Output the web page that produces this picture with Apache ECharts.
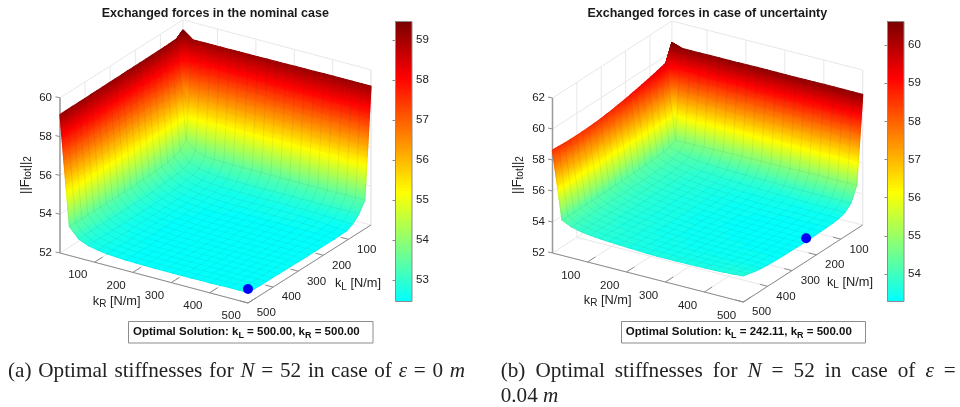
<!DOCTYPE html>
<html><head><meta charset="utf-8">
<style>html,body{margin:0;padding:0;background:#fff}#c{width:960px;height:407px;filter:blur(.5px)}</style>
<script src="https://cdn.jsdelivr.net/npm/echarts@6/dist/echarts.min.js"></script>
</head><body><div id="c"></div>
<script>
// ---------- data ----------
const kGrid = [10,34.5,59,83.5,108,132.5,157,181.5,206,230.5,255,279.5,304,328.5,353,377.5,402,426.5,451,475.5,500];
const tickK = [100,200,300,400,500];
const ticksZA = [52,54,56,58,60];
const ticksZB = [52,54,56,58,60,62];
const barTicksA = [53,54,55,56,57,58,59];
const barTicksB = [54,55,56,57,58,59,60];
const barRangeA = [52.46,59.46];
const barRangeB = [53.28,60.62];
const optimumA = [500,500,52.72];
const optimumB = [500,242.11,53.5];
// rows: kR index, columns: kL index
const zA = [
[59.46,59.22,59.21,59.20,59.20,59.19,59.19,59.18,59.18,59.18,59.17,59.17,59.17,59.16,59.16,59.16,59.15,59.15,59.15,59.14,59.14],
[59.10,54.10,53.80,53.66,53.60,53.56,53.53,53.51,53.49,53.48,53.47,53.47,53.47,53.47,53.48,53.48,53.48,53.49,53.49,53.50,53.50],
[59.10,53.70,53.30,53.18,53.12,53.08,53.05,53.03,53.00,52.99,52.98,52.98,52.97,52.97,52.97,52.97,52.97,52.98,52.98,52.98,52.98],
[59.11,53.55,53.12,52.98,52.91,52.86,52.83,52.80,52.78,52.77,52.76,52.76,52.75,52.75,52.75,52.75,52.76,52.76,52.76,52.77,52.77],
[59.11,53.50,53.03,52.85,52.78,52.74,52.71,52.68,52.66,52.66,52.65,52.65,52.65,52.65,52.65,52.65,52.66,52.66,52.67,52.67,52.68],
[59.11,53.50,52.99,52.80,52.72,52.68,52.65,52.62,52.60,52.59,52.58,52.58,52.58,52.58,52.58,52.58,52.59,52.59,52.60,52.60,52.60],
[59.12,53.49,52.97,52.77,52.69,52.64,52.61,52.58,52.56,52.55,52.54,52.54,52.54,52.54,52.54,52.54,52.55,52.55,52.56,52.56,52.57],
[59.12,53.48,52.96,52.75,52.66,52.61,52.58,52.55,52.53,52.52,52.51,52.51,52.51,52.51,52.51,52.52,52.52,52.53,52.53,52.54,52.54],
[59.12,53.48,52.96,52.74,52.65,52.59,52.56,52.53,52.51,52.50,52.49,52.49,52.49,52.49,52.49,52.50,52.50,52.51,52.51,52.52,52.53],
[59.13,53.48,52.96,52.74,52.64,52.58,52.55,52.52,52.50,52.49,52.48,52.48,52.48,52.48,52.48,52.49,52.49,52.50,52.50,52.51,52.52],
[59.13,53.48,52.96,52.74,52.64,52.58,52.54,52.51,52.49,52.48,52.47,52.47,52.47,52.47,52.47,52.48,52.48,52.49,52.49,52.50,52.51],
[59.13,53.48,52.96,52.74,52.64,52.58,52.54,52.51,52.49,52.48,52.47,52.47,52.47,52.47,52.47,52.47,52.48,52.49,52.49,52.50,52.51],
[59.14,53.48,52.96,52.74,52.64,52.58,52.54,52.51,52.49,52.48,52.47,52.46,52.46,52.46,52.47,52.47,52.48,52.48,52.49,52.50,52.51],
[59.14,53.48,52.96,52.74,52.64,52.58,52.54,52.51,52.49,52.48,52.47,52.46,52.46,52.46,52.47,52.47,52.48,52.48,52.49,52.50,52.51],
[59.14,53.48,52.96,52.74,52.64,52.58,52.54,52.51,52.49,52.48,52.47,52.46,52.46,52.47,52.47,52.47,52.48,52.49,52.49,52.50,52.51],
[59.15,53.48,52.96,52.73,52.63,52.58,52.54,52.51,52.49,52.48,52.47,52.47,52.47,52.47,52.47,52.48,52.48,52.49,52.50,52.50,52.52],
[59.15,53.48,52.96,52.72,52.62,52.57,52.53,52.51,52.49,52.48,52.47,52.47,52.47,52.47,52.48,52.48,52.49,52.49,52.50,52.51,52.52],
[59.15,53.48,52.96,52.70,52.60,52.56,52.53,52.51,52.49,52.48,52.47,52.47,52.47,52.48,52.48,52.49,52.49,52.50,52.50,52.51,52.53],
[59.15,53.49,52.96,52.68,52.56,52.54,52.52,52.50,52.49,52.48,52.48,52.48,52.48,52.48,52.49,52.49,52.50,52.50,52.51,52.52,52.54],
[59.16,53.49,52.96,52.66,52.52,52.51,52.50,52.49,52.48,52.48,52.48,52.48,52.48,52.49,52.49,52.50,52.50,52.51,52.52,52.53,52.54],
[59.16,53.49,52.96,52.65,52.50,52.49,52.48,52.48,52.48,52.48,52.48,52.48,52.49,52.49,52.50,52.50,52.51,52.51,52.52,52.53,52.55]
];
const zB = [
[60.60,59.54,59.43,59.32,59.22,59.13,59.04,58.96,58.88,58.82,58.75,58.70,58.65,58.62,58.59,58.58,58.57,58.58,58.59,58.62,58.65],
[60.40,54.70,54.52,54.44,54.40,54.37,54.35,54.33,54.32,54.31,54.30,54.30,54.29,54.29,54.29,54.29,54.29,54.29,54.29,54.29,54.29],
[60.40,54.72,54.32,54.18,54.12,54.08,54.06,54.04,54.03,54.02,54.01,54.01,54.01,54.00,54.00,54.00,54.00,54.00,54.00,54.00,54.00],
[60.40,54.73,54.18,54.03,53.96,53.92,53.89,53.87,53.86,53.85,53.85,53.85,53.85,53.85,53.85,53.85,53.85,53.85,53.85,53.85,53.85],
[60.41,54.74,54.10,53.93,53.86,53.82,53.79,53.77,53.76,53.75,53.75,53.75,53.75,53.75,53.75,53.75,53.76,53.76,53.76,53.77,53.77],
[60.41,54.75,54.06,53.85,53.77,53.73,53.70,53.68,53.67,53.66,53.66,53.66,53.66,53.67,53.67,53.68,53.68,53.69,53.70,53.70,53.71],
[60.41,54.76,54.03,53.80,53.71,53.67,53.64,53.62,53.61,53.60,53.60,53.60,53.60,53.61,53.61,53.62,53.63,53.64,53.65,53.66,53.67],
[60.41,54.77,54.01,53.76,53.66,53.62,53.59,53.57,53.56,53.55,53.55,53.55,53.55,53.56,53.56,53.57,53.58,53.59,53.60,53.61,53.63],
[60.41,54.78,53.99,53.72,53.61,53.57,53.54,53.52,53.51,53.50,53.50,53.50,53.50,53.51,53.51,53.52,53.53,53.54,53.56,53.58,53.60],
[60.42,54.78,53.97,53.69,53.57,53.52,53.49,53.47,53.46,53.45,53.45,53.45,53.45,53.46,53.47,53.48,53.49,53.50,53.52,53.54,53.57],
[60.42,54.79,53.96,53.67,53.54,53.48,53.45,53.43,53.42,53.41,53.41,53.41,53.41,53.42,53.43,53.44,53.45,53.47,53.49,53.51,53.54],
[60.42,54.79,53.95,53.65,53.52,53.46,53.42,53.40,53.39,53.38,53.38,53.38,53.39,53.39,53.40,53.42,53.43,53.45,53.47,53.50,53.53],
[60.42,54.80,53.94,53.63,53.50,53.44,53.40,53.38,53.37,53.36,53.36,53.36,53.37,53.38,53.39,53.40,53.42,53.44,53.46,53.49,53.53],
[60.42,54.80,53.93,53.61,53.48,53.42,53.39,53.37,53.35,53.34,53.34,53.35,53.36,53.37,53.38,53.39,53.41,53.43,53.46,53.49,53.53],
[60.42,54.81,53.92,53.60,53.47,53.41,53.38,53.36,53.34,53.33,53.33,53.34,53.35,53.36,53.37,53.39,53.41,53.43,53.46,53.50,53.54],
[60.43,54.81,53.92,53.59,53.46,53.40,53.37,53.35,53.33,53.32,53.32,53.33,53.34,53.35,53.37,53.39,53.41,53.44,53.47,53.51,53.55],
[60.43,54.82,53.91,53.58,53.45,53.39,53.36,53.34,53.32,53.31,53.31,53.32,53.33,53.35,53.36,53.38,53.41,53.44,53.48,53.52,53.56],
[60.43,54.82,53.91,53.57,53.44,53.38,53.36,53.33,53.32,53.31,53.31,53.31,53.33,53.34,53.36,53.38,53.41,53.45,53.49,53.54,53.58],
[60.43,54.82,53.90,53.56,53.43,53.38,53.35,53.33,53.31,53.30,53.30,53.31,53.32,53.34,53.35,53.38,53.41,53.45,53.50,53.56,53.60],
[60.43,54.83,53.90,53.55,53.43,53.37,53.35,53.33,53.31,53.30,53.30,53.31,53.32,53.33,53.35,53.37,53.40,53.45,53.50,53.58,53.64],
[60.43,54.83,53.90,53.55,53.42,53.37,53.35,53.33,53.31,53.30,53.30,53.31,53.32,53.33,53.34,53.36,53.39,53.43,53.50,53.59,53.68]
];
// ---------- view / layout ----------
const views = [
 {z:zA, ticksZ:ticksZA, top:60, barRange:barRangeA, opt:optimumA,
  back:[183,175], right:[371,225], left:[60,253], unit:19.4, zLabelX:52,
  kROff:[-16.8,13], kLOff:[18.3,10.2]},
 {z:zB, ticksZ:ticksZB, top:62, barRange:barRangeB, opt:optimumB,
  back:[671.9,176], right:[862.7,225], left:[552.5,253], unit:15.5, zLabelX:545,
  kROff:[-16.8,13.5], kLOff:[18.3,10.2]}
];
const K0=10,K1=500,LEVELS=96;
function proj(v,kR,kL,z){
  const t=(kR-K0)/(K1-K0),u=(kL-K0)/(K1-K0);
  return [v.back[0]+t*(v.right[0]-v.back[0])+u*(v.left[0]-v.back[0]),
          v.back[1]+t*(v.right[1]-v.back[1])+u*(v.left[1]-v.back[1])-(z-52)*v.unit];
}
const stops=[[0,[0,255,255]],[.39,[255,255,0]],[.8,[255,0,0]],[1,[122,0,0]]];
function cmap(t){
  t=Math.max(0,Math.min(1,t));
  t=(Math.min(LEVELS-1,Math.floor(t*LEVELS))+.5)/LEVELS;
  for(let i=1;i<stops.length;i++){ if(t<=stops[i][0]){
    const a=stops[i-1],b=stops[i],f=(t-a[0])/(b[0]-a[0]);
    return 'rgb('+a[1].map((c,k)=>Math.round(c+(b[1][k]-c)*f)).join(',')+')';
  }}
  return 'rgb(122,0,0)';
}
const GRID='#e8e8e8',AX='#8c8c8c',TXT='#222',TF='11.5px "Liberation Sans"';
function line(api,a,b,color,w){
  const p=api.coord(a),q=api.coord(b);
  return {type:'line',shape:{x1:p[0],y1:p[1],x2:q[0],y2:q[1]},style:{stroke:color,lineWidth:w||1},silent:true};
}
function label(api,a,s,align){
  const p=api.coord(a);
  return {type:'text',style:{text:s,x:p[0],y:p[1],font:TF,fill:TXT,align:align||'center',verticalAlign:'middle'},silent:true};
}
function boxItem(v){return function(params,api){
  const ch=[],zb=52,zt=v.top,P=(r,l,z)=>proj(v,r,l,z);
  tickK.forEach(k=>{
    ch.push(line(api,P(k,K0,zb),P(k,K1,zb),GRID));   // floor
    ch.push(line(api,P(K0,k,zb),P(K1,k,zb),GRID));
    ch.push(line(api,P(k,K0,zb),P(k,K0,zt),GRID));   // right back wall
    ch.push(line(api,P(K0,k,zb),P(K0,k,zt),GRID));   // left back wall
  });
  v.ticksZ.forEach(z=>{
    ch.push(line(api,P(K0,K1,z),P(K0,K0,z),GRID));
    ch.push(line(api,P(K0,K0,z),P(K1,K0,z),GRID));
  });
  ch.push(line(api,P(K0,K0,zb),P(K0,K0,zt),GRID));
  ch.push(line(api,P(K1,K0,zb),P(K1,K0,zt),GRID));
  // outer edges
  ch.push(line(api,P(K0,K1,zb),P(K1,K1,zb),AX));
  ch.push(line(api,P(K1,K1,zb),P(K1,K0,zb),AX));
  ch.push(line(api,P(K0,K1,zb),P(K0,K1,zt),'#9a9a9a',1.5));
  tickK.forEach(k=>{
    const a=P(k,K1,zb),b=P(k,K1-32,zb); ch.push(line(api,a,b,AX));
    const c=P(K1,k,zb),d=P(K1-20,k,zb); ch.push(line(api,c,d,AX));
    ch.push(label(api,[a[0]+v.kROff[0],a[1]+v.kROff[1]],String(k)));
    ch.push(label(api,[c[0]+v.kLOff[0],c[1]+v.kLOff[1]],String(k)));
  });
  v.ticksZ.forEach(z=>{
    const a=P(K0,K1,z);
    ch.push(line(api,a,[a[0]-4.5,a[1]-1],AX));
    ch.push(label(api,[v.zLabelX,a[1]],String(z),'right'));
  });
  return {type:'group',children:ch};
};}
function surfItem(v){return function(params,api){
  const i=api.value(0),j=api.value(1),Z=v.z,n=v.barRange;
  const z00=Z[i][j],z01=Z[i][j+1],z10=Z[i+1][j],z11=Z[i+1][j+1];
  const ri=Math.max(Math.abs(z10-z00),Math.abs(z11-z01)),rj=Math.max(Math.abs(z01-z00),Math.abs(z11-z10));
  const Ni=Math.min(60,Math.max(1,Math.ceil(ri/.07))),Nj=Math.min(60,Math.max(1,Math.ceil(rj/.07)));
  const R0=kGrid[i],R1=kGrid[i+1],L0=kGrid[j],L1=kGrid[j+1];
  const zAt=(a,b)=>z00*(1-a)*(1-b)+z01*(1-a)*b+z10*a*(1-b)+z11*a*b;
  const pt=(a,b)=>api.coord(proj(v,R0+(R1-R0)*a,L0+(L1-L0)*b,zAt(a,b)));
  const ch=[];
  for(let p=0;p<Ni;p++)for(let q=0;q<Nj;q++){
    const a0=p/Ni,a1=(p+1)/Ni,b0=q/Nj,b1=(q+1)/Nj;
    const c=cmap((zAt((a0+a1)/2,(b0+b1)/2)-n[0])/(n[1]-n[0]));
    ch.push({type:'polygon',shape:{points:[pt(a0,b0),pt(a0,b1),pt(a1,b1),pt(a1,b0)]},
      style:{fill:c,stroke:c,lineWidth:1.1},silent:true});
  }
  return {type:'group',children:ch};
};}
function meshItem(v){return function(params,api){
  const ch=[],Z=v.z,N=kGrid.length;
  for(let a=0;a<N;a++){
    const p1=[],p2=[];
    for(let b=0;b<N;b++){
      p1.push(api.coord(proj(v,kGrid[a],kGrid[b],Z[a][b])));
      p2.push(api.coord(proj(v,kGrid[b],kGrid[a],Z[b][a])));
    }
    [p1,p2].forEach(p=>ch.push({type:'polyline',shape:{points:p},style:{stroke:'rgba(30,60,70,0.1)',fill:null,lineWidth:.7},silent:true}));
  }
  return {type:'group',children:ch};
};}
function dotItem(v){return function(params,api){
  const p=api.coord(proj(v,v.opt[0],v.opt[1],v.opt[2]));
  return {type:'circle',shape:{cx:p[0],cy:p[1],r:5},style:{fill:'#0000f5'},silent:true};
};}
function barItem(range){return function(params,api){
  const n=LEVELS,ch=[],d=(range[1]-range[0])/n;
  const top=api.coord([0,range[1]])[1];
  for(let k=0;k<n;k++){
    // each level paints from its lower edge up to the top of the bar, so no seam shows through
    const a=api.coord([0,range[0]+k*d]),b=api.coord([1,range[0]+(k+1)*d]);
    ch.push({type:'rect',shape:{x:a[0],y:top,width:b[0]-a[0],height:a[1]-top},style:{fill:cmap((k+.5)/n)},silent:true});
  }
  const a=api.coord([0,range[0]]),b=api.coord([1,range[1]]);
  ch.push({type:'rect',shape:{x:a[0],y:b[1],width:b[0]-a[0],height:a[1]-b[1]},style:{fill:null,stroke:'#8c8c8c',lineWidth:1},silent:true});
  return {type:'group',children:ch};
};}
// ---------- text made of runs ----------
const mc=document.createElement('canvas').getContext('2d');
function textRun(x,y,segs,o){
  o=o||{};const size=o.size||12.8,fam=o.family||'Liberation Sans',w8=o.weight||'normal',fill=o.fill||TXT;
  const fontOf=s=>(s.i?'italic ':'')+(w8)+' '+(s.sub?Math.round(size*.78*10)/10:size)+'px "'+fam+'"';
  const widths=segs.map(s=>{mc.font=fontOf(s);return mc.measureText(s.t).width;});
  let total=widths.reduce((a,b)=>a+b,0),extra=0;
  if(o.target){const sp=segs.reduce((a,s)=>a+(s.t.match(/ /g)||[]).length,0);extra=(o.target-total)/sp;total=o.target;}
  let cx=o.center?-total/2:0;const ch=[];
  segs.forEach((s,idx)=>{
    if(o.target){
      s.t.split(/( )/).forEach(w=>{ if(!w)return;
        mc.font=fontOf(s);const wd=mc.measureText(w).width;
        if(w!==' ')ch.push({type:'text',x:cx,y:0,style:{text:w,font:fontOf(s),fill,verticalAlign:'middle'},silent:true});
        cx+=wd+(w===' '?extra:0);
      });
    } else {
      ch.push({type:'text',x:cx,y:s.sub?3.5:0,style:{text:s.t,font:fontOf(s),fill,verticalAlign:'middle'},silent:true});
      cx+=widths[idx];
    }
  });
  return {type:'group',x,y,rotation:o.rot||0,children:ch,silent:true};
}
function frame(x,y,w,h){return {type:'rect',shape:{x,y,width:w,height:h},style:{fill:'#fff',stroke:'#8c8c8c',lineWidth:1},silent:true};}
const graphicEls=[
 textRun(215.3,14,[{t:'Exchanged forces in the nominal case'}],{weight:'bold',size:12.5,center:true,fill:'#1a1a1a'}),
 textRun(707.3,14,[{t:'Exchanged forces in case of uncertainty'}],{weight:'bold',size:12.5,center:true,fill:'#1a1a1a'}),
 textRun(116.7,301,[{t:'k'},{t:'R',sub:true},{t:' [N/m]'}],{center:true}),
 textRun(358,283.5,[{t:'k'},{t:'L',sub:true},{t:' [N/m]'}],{center:true}),
 textRun(607.7,300,[{t:'k'},{t:'R',sub:true},{t:' [N/m]'}],{center:true}),
 textRun(850,282,[{t:'k'},{t:'L',sub:true},{t:' [N/m]'}],{center:true}),
 textRun(25,175,[{t:'||F'},{t:'tot',sub:true},{t:'||'},{t:'2',sub:true}],{center:true,rot:Math.PI/2}),
 textRun(517,175,[{t:'||F'},{t:'tot',sub:true},{t:'||'},{t:'2',sub:true}],{center:true,rot:Math.PI/2}),
 frame(128.5,321.5,244.5,21.5),
 frame(621.5,321.5,244,21.5),
 textRun(133,332,[{t:'Optimal Solution: k'},{t:'L',sub:true},{t:' = 500.00, k'},{t:'R',sub:true},{t:' = 500.00'}],{weight:'bold',size:11.5,fill:'#111'}),
 textRun(625.7,332,[{t:'Optimal Solution: k'},{t:'L',sub:true},{t:' = 242.11, k'},{t:'R',sub:true},{t:' = 500.00'}],{weight:'bold',size:11.5,fill:'#111'}),
 textRun(8,371,[{t:'(a) Optimal stiffnesses for '},{t:'N',i:1},{t:' = 52 in case of '},{t:'ε',i:1},{t:' = 0 '},{t:'m',i:1}],{family:'Liberation Serif',size:21.2,target:457,fill:'#222'}),
 textRun(500.7,371,[{t:'(b) Optimal stiffnesses for '},{t:'N',i:1},{t:' = 52 in case of '},{t:'ε',i:1},{t:' ='}],{family:'Liberation Serif',size:21.2,target:455,fill:'#222'}),
 textRun(500.7,396,[{t:'0.04 '},{t:'m',i:1}],{family:'Liberation Serif',size:21.2,fill:'#222'})
];
// ---------- chart ----------
const cells=[];for(let a=0;a<20;a++)for(let b=0;b<20;b++)cells.push([a,b]);
const base={type:'custom',coordinateSystem:'cartesian2d',xAxisIndex:0,yAxisIndex:0,animation:false,silent:true,progressive:0,clip:false,encode:{x:0,y:1}};
const series=[];
views.forEach(v=>{
  series.push(Object.assign({},base,{z:1,data:[[1,1]],renderItem:boxItem(v)}));
  series.push(Object.assign({},base,{z:2,data:cells,renderItem:surfItem(v)}));
  series.push(Object.assign({},base,{z:3,data:[[1,1]],renderItem:meshItem(v)}));
  series.push(Object.assign({},base,{z:4,data:[[1,1]],renderItem:dotItem(v)}));
});
function barAxes(gi,range,ticks){
  return {y:{gridIndex:gi,type:'value',position:'right',min:range[0],max:range[1],splitLine:{show:false},
    axisLine:{show:false},axisTick:{show:true,inside:true,length:3,lineStyle:{color:'#8c8c8c'},customValues:ticks},
    axisLabel:{show:true,margin:4,color:TXT,fontFamily:'Liberation Sans',fontSize:11.5,customValues:ticks,formatter:v=>String(v)}},
    x:{gridIndex:gi,type:'value',min:0,max:1,show:false}};
}
const b1=barAxes(1,barRangeA,barTicksA),b2=barAxes(2,barRangeB,barTicksB);
[[1,barRangeA],[2,barRangeB]].forEach(([g,r])=>series.push({type:'custom',coordinateSystem:'cartesian2d',xAxisIndex:g,yAxisIndex:g,animation:false,silent:true,data:[[0,r[0]]],encode:{x:0,y:1},clip:false,renderItem:barItem(r),z:0}));
const chart=echarts.init(document.getElementById('c'),null,{renderer:'canvas',width:960,height:407});
chart.setOption({
  animation:false,backgroundColor:'#fff',
  grid:[{left:0,top:0,width:960,height:407},{left:395.5,top:21.5,width:16.5,height:280},{left:887.5,top:21.5,width:16.5,height:280}],
  xAxis:[{gridIndex:0,type:'value',min:0,max:960,show:false},b1.x,b2.x],
  yAxis:[{gridIndex:0,type:'value',min:0,max:407,inverse:true,show:false},b1.y,b2.y],
  series,
  graphic:{elements:graphicEls}
});
</script></body></html>
